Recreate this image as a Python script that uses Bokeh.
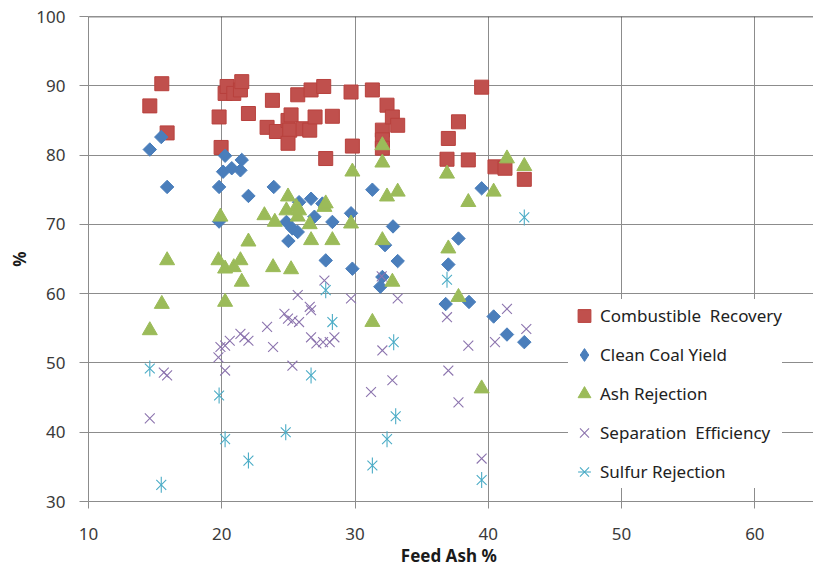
from bokeh.plotting import figure
from bokeh.models import Range1d, Legend, LegendItem, Span, FixedTicker
from bokeh.embed import file_html
from bokeh.resources import INLINE
import numpy as np

# ---- data ----
cr_x = [14.6, 15.5, 15.9, 19.8, 19.95, 20.25, 20.4, 20.9, 21.4, 21.5, 22.0, 23.4, 23.8, 24.1,
        24.97, 25.1, 24.97, 25.2, 25.7, 26.1, 26.6, 26.7, 27.0, 27.65, 27.8, 28.3, 29.7, 29.8,
        31.3, 32.05, 32.05, 32.05, 32.4, 32.8, 33.2, 36.9, 37.0, 37.76, 38.5, 39.5, 40.5, 41.25, 42.7]
cr_y = [87.1, 90.3, 83.2, 85.5, 81.1, 88.9, 89.9, 88.9, 89.4, 90.6, 86.0, 84.0, 87.9, 83.4,
        85.0, 83.6, 81.7, 85.8, 88.7, 83.8, 83.6, 89.4, 85.5, 89.9, 79.5, 85.6, 89.1, 81.3,
        89.4, 83.6, 82.2, 81.0, 87.2, 85.5, 84.3, 79.4, 82.4, 84.8, 79.3, 89.8, 78.3, 78.1, 76.5]

ccy_x = [14.6, 15.46, 15.9, 19.8, 19.8, 20.25, 20.1, 20.75, 21.5, 21.4, 22.0, 23.9, 24.85, 25.0,
         25.3, 25.7, 25.8, 26.7, 26.95, 27.55, 27.8, 28.3, 29.7, 29.8, 31.3, 31.9, 32.05, 32.25,
         32.85, 33.2, 36.8, 37.0, 37.76, 38.55, 39.5, 40.4, 41.4, 42.7]
ccy_y = [80.8, 82.6, 75.4, 75.4, 70.4, 79.9, 77.6, 78.1, 79.3, 77.8, 74.1, 75.4, 70.35, 67.6,
         69.4, 68.9, 73.2, 73.7, 71.1, 73.0, 64.8, 70.35, 71.6, 63.6, 75.0, 61.0, 62.4, 67.0,
         69.7, 64.7, 58.5, 64.2, 67.95, 58.8, 75.2, 56.7, 54.1, 53.0]

ar_x = [14.6, 15.5, 15.9, 19.9, 19.75, 20.25, 20.25, 20.9, 21.4, 21.5, 22.0, 23.2, 23.85, 23.98,
        24.85, 24.97, 25.2, 25.6, 25.7, 25.8, 26.6, 26.7, 27.7, 27.8, 28.3, 29.7, 29.8, 31.3,
        32.05, 32.05, 32.05, 32.4, 32.8, 33.2, 36.9, 37.0, 37.76, 38.5, 39.5, 40.4, 41.4, 42.7]
ar_y = [54.7, 58.5, 64.8, 71.1, 64.8, 58.8, 63.6, 63.8, 64.8, 61.7, 67.5, 71.3, 63.8, 70.35,
        72.0, 74.0, 63.5, 72.5, 71.1, 72.0, 70.0, 67.7, 72.5, 73.0, 67.7, 70.1, 77.6, 55.9,
        81.4, 78.9, 67.7, 74.0, 61.7, 74.7, 77.3, 66.5, 59.5, 73.2, 46.3, 74.7, 79.5, 78.4]

se_x = [14.6, 15.65, 15.9, 19.75, 19.9, 20.25, 20.25, 20.6, 21.4, 21.7, 22.0, 23.4, 23.85, 24.7,
        24.97, 25.3, 25.3, 25.7, 25.8, 26.6, 26.7, 26.7, 27.1, 27.6, 27.7, 28.1, 28.45, 29.7,
        31.2, 32.0, 32.05, 32.8, 33.2, 36.9, 37.0, 37.76, 38.5, 39.5, 40.5, 41.4, 42.85]
se_y = [42.0, 48.6, 48.2, 50.8, 52.3, 48.9, 52.5, 53.2, 54.2, 53.7, 53.2, 55.2, 52.3, 57.1,
        56.4, 56.1, 49.6, 59.8, 55.9, 58.1, 57.6, 53.7, 52.8, 53.0, 61.9, 53.0, 53.7, 59.3,
        45.8, 62.5, 51.8, 47.5, 59.3, 56.6, 48.9, 44.3, 52.5, 36.2, 53.0, 57.8, 54.9]

sr_x = [14.6, 15.46, 19.8, 20.25, 22.0, 24.8, 26.7, 27.8, 28.3, 31.3, 32.4, 32.9, 33.05, 36.9, 39.5, 42.7]
sr_y = [49.2, 32.4, 45.3, 39.0, 35.9, 40.0, 48.2, 60.5, 55.9, 35.2, 39.0, 53.0, 42.3, 62.0, 33.1, 71.0]

labels = ["Combustible  Recovery", "Clean Coal Yield", "Ash Rejection",
          "Separation  Efficiency", "Sulfur Rejection"]
x_ticks = [10, 20, 30, 40, 50, 60]
y_ticks = [30, 40, 50, 60, 70, 80, 90, 100]

FONT = "Noto Sans"
BLUE = "#4A7EBB"

p = figure(width=813, height=571, output_backend="svg", toolbar_location=None,
           x_range=Range1d(10, 64.4), y_range=Range1d(30, 100),
           min_border_left=88, min_border_right=0, min_border_top=16, min_border_bottom=70)
p.background_fill_color = "white"
p.border_fill_color = "white"
p.outline_line_color = None

for ax in (p.xaxis, p.yaxis):
    ax.major_label_text_font = FONT
    ax.major_label_text_font_size = "17px"
    ax.major_label_text_color = "#3a3a3a"
    ax.axis_line_color = "#8c8c8c"
    ax.major_tick_line_color = "#8c8c8c"
    ax.minor_tick_line_color = None
    ax.axis_label_text_font = FONT
    ax.axis_label_text_font_style = "bold"
    ax.axis_label_text_font_size = "17px"
    ax.axis_label_text_color = "#1a1a1a"

p.xaxis.ticker = FixedTicker(ticks=x_ticks)
p.yaxis.ticker = FixedTicker(ticks=y_ticks)
p.xaxis.major_tick_in = 0
p.xaxis.major_tick_out = 7
p.yaxis.major_tick_in = 0
p.yaxis.major_tick_out = 9
p.xaxis.major_label_standoff = 19
p.yaxis.major_label_standoff = 14
p.xaxis.axis_label = "Feed  Ash %"
p.yaxis.axis_label = "%"
p.xaxis.axis_label_standoff = 1
p.yaxis.axis_label_standoff = 2

p.xgrid.ticker = FixedTicker(ticks=x_ticks)
p.ygrid.ticker = FixedTicker(ticks=y_ticks)
p.xgrid.grid_line_color = "#8c8c8c"
p.ygrid.grid_line_color = "#8c8c8c"
p.xgrid.grid_line_width = 1
p.ygrid.grid_line_width = 1

p.add_layout(Span(location=100, dimension="width", line_color="#222222", line_width=1.5))

r_cr = p.scatter(cr_x, cr_y, marker="square", size=14, fill_color="#C0504D", line_color="#B8403D")
r_ccy = p.scatter(ccy_x, ccy_y, marker="square", angle=np.pi / 4, size=9.5,
                  fill_color=BLUE, line_color=BLUE)
# hidden twin used only to draw an upright diamond in the legend
r_ccy_leg = p.scatter(ccy_x, ccy_y, marker="diamond", size=14, fill_color=BLUE, line_color=BLUE,
                      visible=False)
r_ar = p.scatter(ar_x, ar_y, marker="triangle", size=15, fill_color="#9BBB59", line_color="#9BBB59")
r_se = p.scatter(se_x, se_y, marker="x", size=14, line_color="#8C74AE", line_width=1.1)
r_sr1 = p.scatter(sr_x, sr_y, marker="x", size=14, line_color="#4BACC6", line_width=1.1)
r_sr2 = p.scatter(sr_x, sr_y, marker="dash", angle=np.pi / 2, size=16, line_color="#4BACC6", line_width=1.1)

legend = Legend(items=[
    LegendItem(label=labels[0], renderers=[r_cr]),
    LegendItem(label=labels[1], renderers=[r_ccy_leg]),
    LegendItem(label=labels[2], renderers=[r_ar]),
    LegendItem(label=labels[3], renderers=[r_se]),
    LegendItem(label=labels[4], renderers=[r_sr1, r_sr2]),
], location=(480, 13))
legend.background_fill_color = "white"
legend.background_fill_alpha = 1
legend.border_line_color = None
legend.inactive_fill_alpha = 0
legend.padding = 3
legend.margin = 0
legend.glyph_width = 32
legend.glyph_height = 33
legend.label_height = 33
legend.spacing = 6
legend.label_standoff = -3
legend.label_text_font = FONT
legend.label_text_font_size = "17px"
legend.label_text_color = "#222222"
p.add_layout(legend)

open("out.html", "w").write(file_html(p, INLINE))
